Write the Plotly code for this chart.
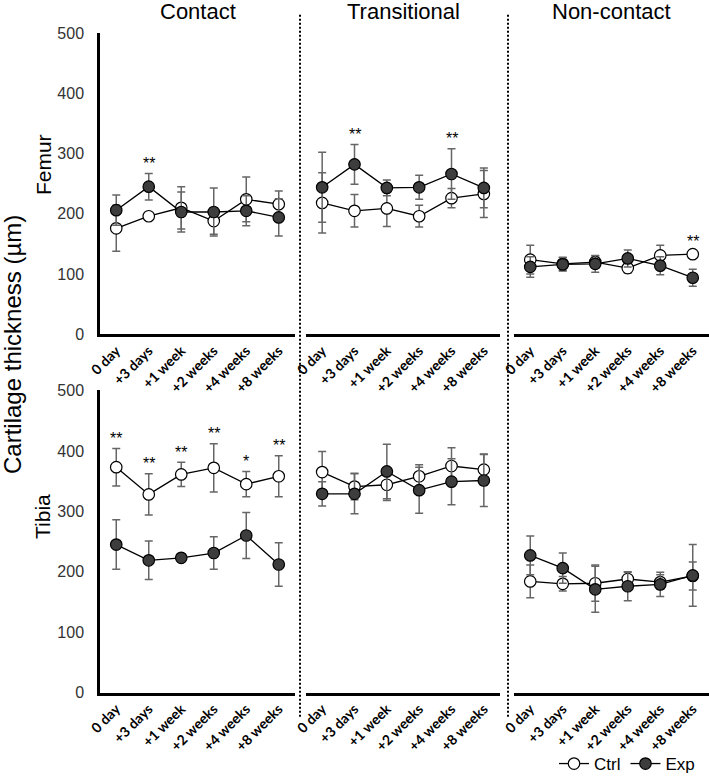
import plotly.graph_objects as go

# ---------------- data ----------------
categories = ["0 day", "+3 days", "+1 week", "+2 weeks", "+4 weeks", "+8 weeks"]
regions = ["Contact", "Transitional", "Non-contact"]
bones = ["Femur", "Tibia"]

# Femur
femur_contact_ctrl = [176, 196, 210, 188, 224, 216]
femur_contact_ctrl_sd = [38, 5, 35, 22, 37, 22]
femur_contact_exp = [206, 245, 203, 203, 205, 194]
femur_contact_exp_sd = [25, 22, 33, 40, 25, 31]

femur_trans_ctrl = [218, 205, 209, 196, 226, 233]
femur_trans_ctrl_sd = [50, 27, 30, 18, 16, 39]
femur_trans_exp = [244, 282, 243, 244, 266, 243]
femur_trans_exp_sd = [58, 33, 13, 20, 42, 33]

femur_non_ctrl = [124, 117, 120, 110, 131, 133]
femur_non_ctrl_sd = [24, 11, 10, 8, 17, 5]
femur_non_exp = [112, 116, 117, 126, 114, 94]
femur_non_exp_sd = [17, 11, 14, 14, 15, 14]

# Tibia
tibia_contact_ctrl = [373, 328, 361, 372, 345, 358]
tibia_contact_ctrl_sd = [31, 34, 20, 40, 21, 34]
tibia_contact_exp = [245, 219, 223, 231, 260, 212]
tibia_contact_exp_sd = [41, 32, 4, 27, 38, 36]

tibia_trans_ctrl = [365, 341, 344, 358, 375, 369]
tibia_trans_ctrl_sd = [34, 22, 26, 19, 30, 26]
tibia_trans_exp = [329, 329, 366, 335, 349, 351]
tibia_trans_exp_sd = [20, 33, 45, 38, 38, 43]

tibia_non_ctrl = [184, 180, 181, 188, 183, 193]
tibia_non_ctrl_sd = [27, 12, 30, 11, 12, 23]
tibia_non_exp = [227, 206, 171, 176, 179, 194]
tibia_non_exp_sd = [32, 25, 38, 24, 20, 51]

# significance marks
femur_contact_sig = ["", "**", "", "", "", ""]
femur_trans_sig = ["", "**", "", "", "**", ""]
femur_non_sig = ["", "", "", "", "", "**"]
tibia_contact_sig = ["**", "**", "**", "**", "*", "**"]
tibia_trans_sig = ["", "", "", "", "", ""]
tibia_non_sig = ["", "", "", "", "", ""]

y_ticks = [0, 100, 200, 300, 400, 500]

panels = [
    [  # femur row
        (femur_contact_ctrl, femur_contact_ctrl_sd, femur_contact_exp, femur_contact_exp_sd, femur_contact_sig),
        (femur_trans_ctrl, femur_trans_ctrl_sd, femur_trans_exp, femur_trans_exp_sd, femur_trans_sig),
        (femur_non_ctrl, femur_non_ctrl_sd, femur_non_exp, femur_non_exp_sd, femur_non_sig),
    ],
    [  # tibia row
        (tibia_contact_ctrl, tibia_contact_ctrl_sd, tibia_contact_exp, tibia_contact_exp_sd, tibia_contact_sig),
        (tibia_trans_ctrl, tibia_trans_ctrl_sd, tibia_trans_exp, tibia_trans_exp_sd, tibia_trans_sig),
        (tibia_non_ctrl, tibia_non_ctrl_sd, tibia_non_exp, tibia_non_exp_sd, tibia_non_sig),
    ],
]

# ---------------- layout helpers ----------------
W, H = 709, 782
x_px = [(100, 295), (306, 500), (514, 709)]
y_px = [(33.3, 338.3), (395, 700.7)]


def px_x(p):
    return p / W


def px_y(p):
    return 1 - p / H


FONT = "Liberation Sans, Arial, sans-serif"
TICKFONT = "Lato, Open Sans, sans-serif"
ERR_COLOR = "#666666"

fig = go.Figure()
layout = dict(
    width=W, height=H,
    margin=dict(l=0, r=0, t=0, b=0),
    paper_bgcolor="white", plot_bgcolor="white",
    showlegend=True,
    font=dict(family=FONT, color="black"),
)
annotations = []

for r in range(2):
    for c in range(3):
        n = r * 3 + c + 1
        xs = "" if n == 1 else str(n)
        ctrl, ctrl_sd, exp, exp_sd, sig = panels[r][c]
        for name, vals, sd, fill in (("Ctrl", ctrl, ctrl_sd, "white"), ("Exp", exp, exp_sd, "#3d3d3d")):
            fig.add_trace(go.Scatter(
                x=categories, y=vals, name=name,
                xaxis="x" + xs, yaxis="y" + xs,
                mode="lines+markers",
                line=dict(color="black", width=1.3),
                marker=dict(size=11.5, color=fill, line=dict(color="black", width=1.2)),
                error_y=dict(type="data", array=sd, visible=True, color=ERR_COLOR, thickness=1.5, width=4),
                showlegend=(n == 1), legendgroup=name,
            ))
        for i, s in enumerate(sig):
            if s:
                top = max(ctrl[i] + ctrl_sd[i], exp[i] + exp_sd[i])
                annotations.append(dict(
                    x=categories[i], y=top, xref="x" + xs, yref="y" + xs,
                    text=s, showarrow=False, yanchor="middle", yshift=10,
                    font=dict(size=16, family=FONT, color="black"),
                ))
        x0, x1 = x_px[c]
        y0, y1 = y_px[r]
        layout["xaxis" + xs] = dict(
            domain=[px_x(x0), px_x(x1)], anchor="y" + xs,
            type="category", categoryorder="array", categoryarray=categories,
            range=[-0.5, 5.5], showline=True, linecolor="black", linewidth=2.5,
            ticks="", tickangle=-45, showgrid=False, zeroline=False, automargin=False,
            tickfont=dict(family=TICKFONT, size=14, color="black", weight="bold"),
        )
        layout["yaxis" + xs] = dict(
            domain=[px_y(y1), px_y(y0)], anchor="x" + xs,
            range=[0, 500], tickvals=y_ticks, ticks="",
            showline=(c == 0), linecolor="black", linewidth=2.5,
            showticklabels=(c == 0), showgrid=False, zeroline=False, automargin=False,
            tickfont=dict(family=FONT, size=16, color="#333333"),
            ticklabelstandoff=10,
        )

# region titles
for c, name in enumerate(regions):
    annotations.append(dict(
        x=px_x((x_px[c][0] + x_px[c][1]) / 2), y=px_y(12), xref="paper", yref="paper",
        text=name, showarrow=False, xanchor="center", yanchor="middle",
        font=dict(size=22, family=FONT, color="black"),
    ))
# bone labels
for r, (name, yc) in enumerate(zip(bones, [167, 523])):
    annotations.append(dict(
        x=px_x(43), y=px_y(yc), xref="paper", yref="paper",
        text=name, showarrow=False, textangle=-90, xanchor="center", yanchor="middle",
        font=dict(size=21, family=FONT, color="black"),
    ))
annotations.append(dict(
    x=px_x(13), y=px_y(349), xref="paper", yref="paper",
    text="Cartilage thickness (µm)", showarrow=False, textangle=-90,
    xanchor="center", yanchor="middle",
    font=dict(size=24, family=FONT, color="black"),
))

layout["annotations"] = annotations
layout["shapes"] = [
    dict(type="line", xref="paper", yref="paper", x0=px_x(xp), x1=px_x(xp),
         y0=px_y(15), y1=px_y(727), line=dict(color="black", width=2, dash="2px,2px"))
    for xp in (300, 508)
]
layout["legend"] = dict(
    orientation="h", x=px_x(700), xanchor="right", y=px_y(773), yanchor="middle",
    font=dict(size=17, family=FONT, color="black"), bgcolor="rgba(0,0,0,0)",
    itemwidth=30, tracegroupgap=0,
)

fig.update_layout(**layout)
# remove the default page margin so the figure fills the window exactly
fig.write_html("out.html", config={"displayModeBar": False},
               post_script="document.body.style.margin='0';")
